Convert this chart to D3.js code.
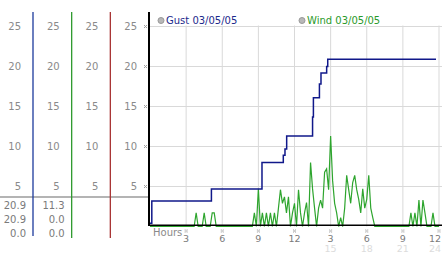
<!DOCTYPE html>
<html>
<head>
<meta charset="utf-8">
<script src="https://cdn.jsdelivr.net/npm/d3@7"></script>
<style>
  body { margin: 0; background: #fff; }
  text { font-family: "DejaVu Sans", sans-serif; }
</style>
</head>
<body>
<div id="chart"></div>
<script>
// Value ticks shared by the side columns and the main plot
const yTicks = [25, 20, 15, 10, 5];

// Hour ticks along the bottom (two label rows)
const hourTicks = [3, 6, 9, 12, 15, 18, 21, 24];
const hourLabels = ["3", "6", "9", "12", "3", "6", "9", "12"];
const hourLabels2 = ["", "", "", "", "15", "18", "21", "24"];

// Legend series names
const seriesNames = ["Gust 03/05/05", "Wind 03/05/05"];

// Summary numbers under the first two side columns (max, last, min)
const gustStats = ["20.9", "20.9", "0.0"];
const windStats = ["11.3", "0.0", "0.0"];

// Gust: step changes (hour, value)
const gustHours = [0, 0.15, 5.1, 9.3, 11.07, 11.21, 11.35, 13.5, 13.57, 14.07, 14.2, 14.67, 14.76, 23.75];
const gustValues = [0.4, 3.2, 4.7, 8.0, 8.9, 9.7, 11.3, 13.7, 16.1, 17.8, 19.2, 20.0, 20.9, 20.9];

// Wind: one reading every 10 minutes, hour 0 to hour 24
const windValues = [
  0, 0, 0, 0, 0, 0,            // 0h
  0, 0, 0, 0, 0, 0,            // 1h
  0, 0, 0, 0, 0, 0,            // 2h
  0, 0, 0, 0, 0, 1.7,          // 3h
  0, 0, 0, 1.7, 0, 0,          // 4h
  0, 1.7, 1.7, 0, 0, 0,        // 5h
  0, 0, 0, 0, 0, 0,            // 6h
  0, 0, 0, 0, 0, 0,            // 7h
  0, 0, 0, 0, 1.7, 0,          // 8h
  4.7, 0, 1.7, 0, 1.7, 0,      // 9h
  1.7, 0, 1.7, 0, 2.3, 4.6,    // 10h
  2.9, 3.7, 1.7, 3.7, 0, 1.7,  // 11h
  2.9, 0, 4.6, 1.7, 0, 1.7,    // 12h
  3.0, 0, 8.0, 4.7, 2.3, 0,    // 13h
  2.3, 3.3, 2.3, 6.8, 7.2, 4.6, // 14h
  11.3, 5.7, 2.9, 1.7, 0, 1.1, // 15h
  0, 2.3, 6.4, 4.6, 2.9, 5.5,  // 16h
  6.4, 4.6, 3.4, 1.7, 4.7, 2.3, // 17h
  3.4, 6.4, 2.3, 1.1, 0, 0,    // 18h
  0, 0, 0, 0, 0, 0,            // 19h
  0, 0, 0, 0, 0, 0,            // 20h
  0, 0, 0, 0, 1.7, 0,          // 21h
  1.7, 0, 3.3, 0, 3.3, 1.7,    // 22h
  0, 0, 0, 1.7, 0, 0,          // 23h
  0                            // 24h
];

const width = 442;
const height = 253;

const svg = d3.select("#chart").append("svg")
    .attr("width", width)
    .attr("height", height);

const x = d3.scaleLinear().domain([0, 24]).range([150, 439]);
const y = d3.scaleLinear().domain([0, 25]).range([226.5, 26.5]);

// Side column lines (gust, wind, spare, main axis)
const colColors = ["#1c3a9c", "#2e9a2e", "#a83232", "#000"];
const colX = d3.scaleLinear().domain([0, 3]).range([33, 149]);

// Little dotted tick glyph
function tickGlyph(g, cx, cy) {
    const dots = [[-1.5, -1.5], [0.5, -1.5], [-0.5, -0.5], [-1.5, 0.5], [0.5, 0.5]];
    g.append("g").selectAll("rect")
        .data(dots)
        .join("rect")
        .attr("x", d => cx + d[0]).attr("y", d => cy + d[1])
        .attr("width", 1).attr("height", 1)
        .attr("fill", "#a0a0a0");
}

// Gridlines
svg.append("g").selectAll("line")
    .data(yTicks)
    .join("line")
    .attr("x1", 150).attr("x2", width)
    .attr("y1", d => y(d)).attr("y2", d => y(d))
    .attr("stroke", "#d9d9d9");

svg.append("g").selectAll("line")
    .data(hourTicks)
    .join("line")
    .attr("x1", d => x(d)).attr("x2", d => x(d))
    .attr("y1", y(25) - 1).attr("y2", y(0))
    .attr("stroke", "#d9d9d9");

// Gray separator above the summary numbers
svg.append("line")
    .attr("x1", 0).attr("x2", 149)
    .attr("y1", 197).attr("y2", 197)
    .attr("stroke", "#b4b4b4")
    .attr("stroke-width", 2);

// Side columns
colColors.forEach((c, i) => {
    const cx = colX(i);
    svg.append("line")
        .attr("x1", cx).attr("x2", cx)
        .attr("y1", 12).attr("y2", i === 3 ? 226 : (i === 0 ? 236 : 238))
        .attr("stroke", c)
        .attr("stroke-width", i === 3 ? 2 : 1.3);

    svg.append("g").selectAll("text")
        .data(yTicks)
        .join("text")
        .attr("x", cx - 12)
        .attr("y", d => y(d) + 3.7)
        .attr("text-anchor", "end")
        .attr("font-size", 10)
        .attr("fill", "#8a8a8a")
        .text(d => d);
});

// Small tick glyphs on the main value axis
yTicks.forEach(d => tickGlyph(svg, 145.5, y(d)));

// Summary numbers
[gustStats, windStats].forEach((stats, i) => {
    svg.append("g").selectAll("text")
        .data(stats)
        .join("text")
        .attr("x", colX(i) - 7)
        .attr("y", (d, j) => 208.5 + j * 14)
        .attr("text-anchor", "end")
        .attr("font-size", 10)
        .attr("fill", "#7a7a7a")
        .text(d => d);
});

// Hour axis labels
svg.append("text")
    .attr("x", 153).attr("y", 235.5)
    .attr("font-size", 10)
    .attr("fill", "#8a8a8a")
    .text("Hours");

hourTicks.forEach(d => tickGlyph(svg, x(d), 231));

const lastHour = hourTicks[hourTicks.length - 1];

svg.append("g").selectAll("text")
    .data(hourTicks)
    .join("text")
    .attr("x", d => d === lastHour ? width - 1 : x(d))
    .attr("y", 241.5)
    .attr("text-anchor", d => d === lastHour ? "end" : "middle")
    .attr("font-size", 9.5)
    .attr("fill", "#7a7a7a")
    .text((d, i) => hourLabels[i]);

svg.append("g").selectAll("text")
    .data(hourTicks)
    .join("text")
    .attr("x", d => d === lastHour ? width - 1 : x(d))
    .attr("y", 251.5)
    .attr("text-anchor", d => d === lastHour ? "end" : "middle")
    .attr("font-size", 9.5)
    .attr("fill", "#dcdcdc")
    .text((d, i) => hourLabels2[i]);

// Wind line
const windLine = d3.line()
    .x((d, i) => x(i / 6))
    .y(d => y(d));

svg.append("path")
    .datum(windValues)
    .attr("d", windLine)
    .attr("fill", "none")
    .attr("stroke", "#2ea52e")
    .attr("stroke-width", 1.2);

// Bottom axis line
svg.append("line")
    .attr("x1", 149).attr("x2", width)
    .attr("y1", 225.2).attr("y2", 225.2)
    .attr("stroke", "#000")
    .attr("stroke-width", 1.5);

// Gust step line
const gustLine = d3.line()
    .curve(d3.curveStepAfter)
    .x(d => x(d[0]))
    .y(d => y(d[1]));

svg.append("path")
    .datum(gustHours.map((h, i) => [h, gustValues[i]]))
    .attr("d", gustLine)
    .attr("fill", "none")
    .attr("stroke", "#10188a")
    .attr("stroke-width", 1.5);

// Legend
const legendX = [161, 302];
const legendColors = ["#1c2a8c", "#2a9a2a"];
seriesNames.forEach((name, i) => {
    svg.append("circle")
        .attr("cx", legendX[i]).attr("cy", 20.5)
        .attr("r", 3)
        .attr("fill", "#b8b8b8")
        .attr("stroke", "#999");
    svg.append("text")
        .attr("x", legendX[i] + 5).attr("y", 24.2)
        .attr("font-size", 10)
        .attr("fill", legendColors[i])
        .text(name);
});
</script>
</body>
</html>
